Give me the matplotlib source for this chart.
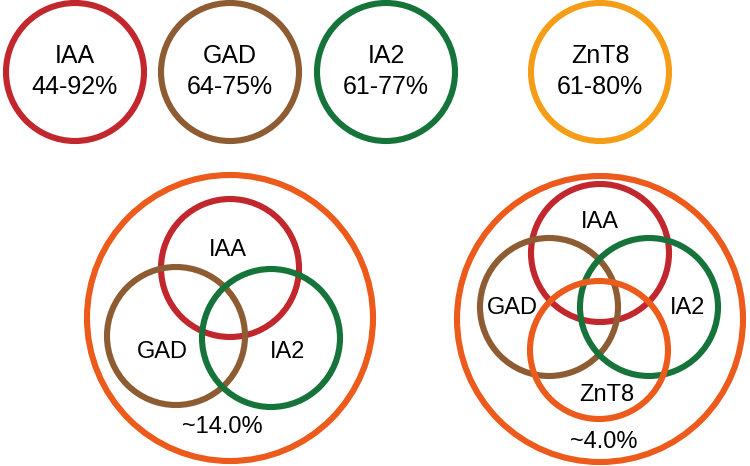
import matplotlib
matplotlib.use('Agg')
import matplotlib.pyplot as plt
from matplotlib.patches import Circle

plt.rcParams['font.family'] = ['Liberation Sans', 'DejaVu Sans']

# autoantibodies and their prevalence ranges
markers = ['IAA', 'GAD', 'IA2', 'ZnT8']
ranges = ['44-92%', '64-75%', '61-77%', '61-80%']
# share positive for the combinations shown below
combo3_share = '~14.0%'
combo4_share = '~4.0%'

colors = {'IAA': '#C1272D', 'GAD': '#8E5C33', 'IA2': '#16743A',
          'ZnT8': '#F49D16', 'outer': '#EC5B1B'}

# layout in pixel units (y goes down)
top_x = [75, 230, 386, 600]
top_y = 72
r_small = 69
r_big = 143
lw = 4.4

left_centers = {'IAA': (230, 268), 'GAD': (176, 336), 'IA2': (271, 338)}
left_text = {'IAA': (228, 250), 'GAD': (162, 352), 'IA2': (288, 352)}
right_centers = {'IAA': (600, 253), 'GAD': (549, 307), 'IA2': (649, 307), 'ZnT8': (599, 350)}
right_text = {'IAA': (600, 222), 'GAD': (512, 308), 'IA2': (688, 308), 'ZnT8': (607, 395)}

fig = plt.figure(figsize=(7.5, 4.66), dpi=100)
ax = fig.add_axes([0, 0, 1, 1])
ax.set_xlim(0, 750)
ax.set_ylim(466, 0)
ax.axis('off')


def ring(cx, cy, r, color):
    ax.add_patch(Circle((cx, cy), r, fill=False, edgecolor=color, linewidth=lw))


# top row: single markers
for name, rng, x in zip(markers, ranges, top_x):
    ring(x, top_y, r_small, colors[name])
    ax.text(x, top_y - 16, name, ha='center', va='center', fontsize=18)
    ax.text(x, top_y + 15, rng, ha='center', va='center', fontsize=18)

# bottom left: three markers
ring(230, 318, r_big, colors['outer'])
for name in ['IAA', 'GAD', 'IA2']:
    cx, cy = left_centers[name]
    ring(cx, cy, r_small, colors[name])
    tx, ty = left_text[name]
    ax.text(tx, ty, name, ha='center', va='center', fontsize=17)
ax.text(222, 427, combo3_share, ha='center', va='center', fontsize=17)

# bottom right: four markers
ring(600, 319, r_big, colors['outer'])
for name in ['IAA', 'GAD', 'IA2', 'ZnT8']:
    cx, cy = right_centers[name]
    c = colors['outer'] if name == 'ZnT8' else colors[name]
    ring(cx, cy, r_small, c)
    tx, ty = right_text[name]
    ax.text(tx, ty, name, ha='center', va='center', fontsize=17)
ax.text(604, 442, combo4_share, ha='center', va='center', fontsize=17)

fig.savefig('out.png', dpi=100)
